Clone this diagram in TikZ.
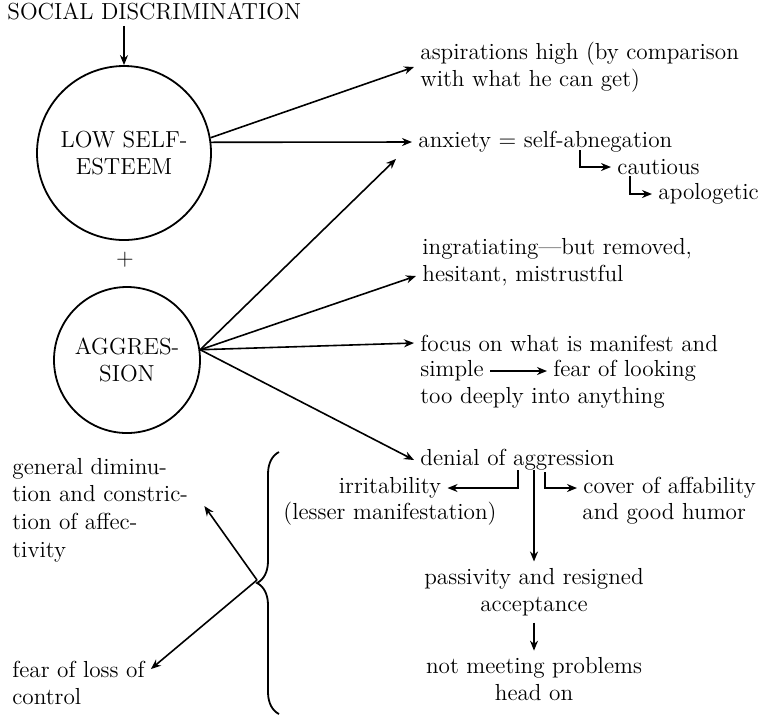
\documentclass[tikz,border=0pt]{standalone}
\usepackage{tikz}
\usetikzlibrary{arrows.meta,decorations.pathreplacing}

\begin{document}
\begin{tikzpicture}[x=0.5pt,y=-0.5pt,
    every node/.style={font=\fontsize{11.6}{13.8}\selectfont, inner sep=3pt},
    bubble/.style={draw, circle, line width=0.9pt, align=center, inner sep=0pt},
    txt/.style={anchor=west, align=left},
    arr/.style={-{Stealth[length=5pt,width=4pt]}, line width=0.8pt}]
\useasboundingbox (0,0) rectangle (769,720);
% Cause at the top
\node[anchor=base west] (soc) at (1,19) {SOCIAL DISCRIMINATION};
% The two circles
\node[bubble, minimum size=87pt] (lse) at (124,153) {LOW SELF-\\ESTEEM};
\node (plus) at (125,260) {+};
\node[bubble, minimum size=73pt] (agg) at (127,360) {AGGRES-\\SION};
\coordinate (socarr) at (lse.north |- soc.south);
\draw[arr] (socarr) -- (lse.north);
% Right column
\node[txt] (asp) at (414,67) {aspirations high (by comparison\\with what he can get)};
\node[txt] (anx) at (412,142) {anxiety = self-abnegation};
\node[txt] (caut) at (611,167) {cautious};
\node[txt] (apol) at (652,194) {apologetic};
\node[txt] (ingr) at (416,262) {ingratiating---but removed,\\hesitant, mistrustful};
\node[txt] (focus) at (414,343) {focus on what is manifest and};
\node[txt] (simple) at (414,371) {simple};
\node[txt] (look) at (547,371) {fear of looking};
\node[txt] (deep) at (414,398) {too deeply into anything};
\node[txt] (denial) at (414,460) {denial of aggression};
\node (irr) at (390,488) {irritability};
\node (lesser) at (390,514) {(lesser manifestation)};
\node[txt] (cover) at (577,488) {cover of affability};
\node[txt] (humor) at (576,514) {and good humor};
\node[align=center] (pass) at (534,592) {passivity and resigned\\acceptance};
\node[align=center] (prob) at (534,679) {not meeting problems\\head on};
% Left column
\node[txt] (gen) at (6,510) {general diminu-\\tion and constric-\\tion of affec-\\tivity};
\node[txt] (loss) at (6,683) {fear of loss of\\control};
% Bends and the brace
\coordinate (abn) at (580,150);
\coordinate (cau) at (630,176);
\coordinate (dl) at (518,470);
\coordinate (dc) at (534,470);
\coordinate (dr) at (545,472);
\coordinate (tip) at (257,580);
\coordinate (brtop) at (279,452);
\coordinate (brbot) at (279,714);
% Arrows
\draw[arr] (lse.10) -- (asp.west);
\draw[arr] (lse.7) -- (anx.west);
\draw[arr] (agg.8) -- ([xshift=-8pt]anx.south west);
\draw[arr] (agg.8) -- ([yshift=-7pt]ingr.west);
\draw[arr] (agg.8) -- (focus.west);
\draw[arr] (agg.8) -- (denial.west);
\draw[arr] (abn) |- (caut);
\draw[arr] (cau) |- (apol);
\draw[arr] (simple) -- (look);
\draw[arr] (dl) |- (irr);
\draw[arr] (dr) |- (cover);
\draw[arr] (dc) -- (pass);
\draw[arr] (pass) -- (prob);
\draw[line width=0.9pt, decorate, decoration={brace, amplitude=11pt}] (brbot) -- (brtop);
\draw[arr] (tip) -- ([xshift=5pt,yshift=2pt]gen.east);
\draw[arr] (tip) -- ([yshift=7pt]loss.east);
\end{tikzpicture}
\end{document}
